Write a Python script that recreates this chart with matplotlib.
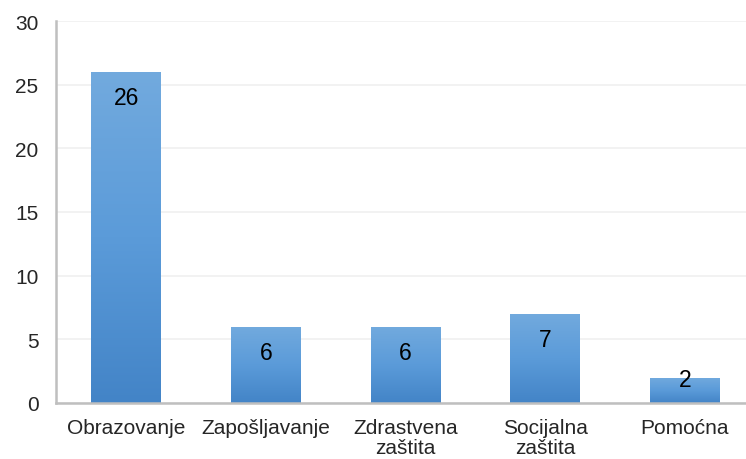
import numpy as np
import matplotlib
matplotlib.use("Agg")
import matplotlib.pyplot as plt
from matplotlib.colors import LinearSegmentedColormap

categories = ["Obrazovanje", "Zapošljavanje", "Zdrastvena\nzaštita", "Socijalna\nzaštita", "Pomoćna"]
values = [26, 6, 6, 7, 2]
yticks = [0, 5, 10, 15, 20, 25, 30]

plt.rcParams['font.family'] = ['Liberation Sans', 'DejaVu Sans']
fs = 15

fig = plt.figure(figsize=(7.46, 4.6), dpi=100)
ax = fig.add_axes([56.5/746, 56/460, 698/746, 382/460])

x = np.arange(len(values))
bars = ax.bar(x, values, width=0.5, color='none', edgecolor='none', zorder=2)

# vertical gradient for each bar
cmap = LinearSegmentedColormap.from_list("blu", ["#4384c7", "#5b9bd9", "#72aade"])
grad = np.linspace(0, 1, 256).reshape(-1, 1)
for b in bars:
    x0, y0 = b.get_x(), b.get_y()
    w, h = b.get_width(), b.get_height()
    im = ax.imshow(grad, cmap=cmap, origin='lower', aspect='auto',
                   extent=[x0, x0 + w, y0, y0 + h], zorder=2)
    im.set_clip_path(b)

ax.set_xlim(-0.5, 4.5)
ax.set_ylim(0, 30)

# labels inside the bar end; short bars push the label up to the top
px_per_unit = 382 / 30
for xi, v in zip(x, values):
    hpx = v * px_per_unit
    off = min(26, max(2, hpx - 23)) * 72 / 100
    ax.annotate(str(v), (xi, v), xytext=(0, -off), textcoords='offset points',
                ha='center', va='center', fontsize=16.5, color='black', zorder=3)

ax.set_yticks(yticks)
ax.set_xticks(x)
ax.set_xticklabels(categories, fontsize=fs, color='#262626', linespacing=1.05)
ax.tick_params(axis='y', length=0, pad=13, labelsize=fs, labelcolor='#262626')
ax.tick_params(axis='x', length=0, pad=11)
ax.grid(axis='y', color='#f0f0f0', linewidth=1.2, zorder=0)
ax.set_axisbelow(True)

for s in ['top', 'right']:
    ax.spines[s].set_visible(False)
for s in ['left', 'bottom']:
    ax.spines[s].set_color('#bfbfbf')
    ax.spines[s].set_linewidth(1.8)

fig.savefig("out.png", dpi=100)
